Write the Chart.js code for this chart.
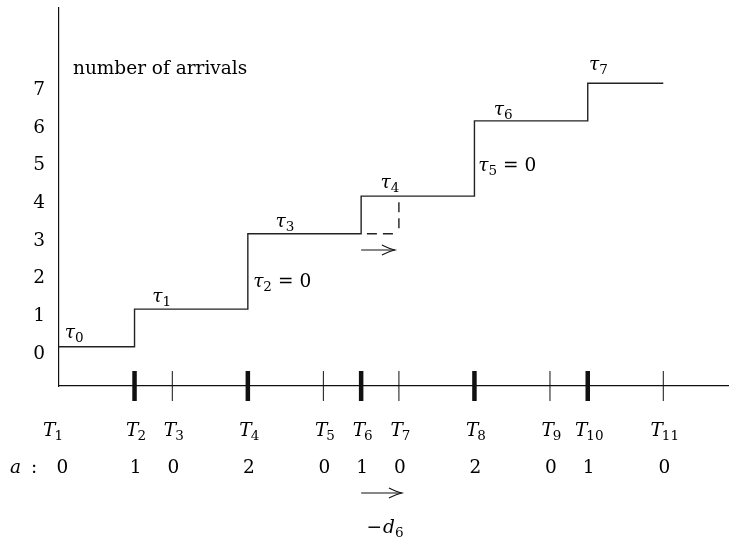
<!DOCTYPE html>
<html><head><meta charset="utf-8">
<script src="https://cdn.jsdelivr.net/npm/chart.js@4"></script>
<style>html,body{margin:0;padding:0;background:#fff;} canvas{display:block;}</style>
</head><body>
<canvas id="c" width="729" height="538"></canvas>
<script>
// ---- data ----
const tNames = ['1','2','3','4','5','6','7','8','9','10','11'];
const tPositions = [0,2,3,5,7,8,9,11,13,14,16];
const arrivals = [0,1,0,2,0,1,0,2,0,1,0];
const stepLevels = [0,1,1,3,3,4,4,6,6,7,7];
const yTickValues = [0,1,2,3,4,5,6,7];
const tauNames = ['0','1','2','3','4','5','6','7'];
const tauIsZero = [false,false,true,false,false,true,false,false];
const yLabelText = 'number of arrivals';
const shiftedIndex = 5;      // arrival at T6 shifted towards T7
const shiftName = '6';

// ---- annotation layout (data coordinates) ----
const tauAnchorX = [0.40,2.72,5.14,5.98,8.76,11.10,11.76,14.28];
const tauAnchorY = [0.23,1.20,1.59,3.19,4.22,4.66,6.16,7.35];
const yLabelAnchor = [0.37, 7.25];
const upperArrowLevel = 2.57;

const FAM = '"DejaVu Serif", serif';
const FS = 18.5, SS = 13.5, SUB_DROP = 4;
const INK = '#111';

function drawMath(ctx, parts, x, y, align) {
  const fonts = {i: `italic ${FS}px ${FAM}`, r: `${FS}px ${FAM}`, s: `${SS}px ${FAM}`};
  let w = 0;
  parts.forEach(p => { ctx.font = fonts[p[1]]; w += ctx.measureText(p[0]).width + (p[2] || 0); });
  let cx = align === 'center' ? x - w / 2 : (align === 'right' ? x - w : x);
  ctx.textAlign = 'left';
  ctx.textBaseline = 'alphabetic';
  parts.forEach(p => {
    ctx.font = fonts[p[1]];
    ctx.fillText(p[0], cx, p[1] === 's' ? y + SUB_DROP : y);
    cx += ctx.measureText(p[0]).width + (p[2] || 0);
  });
}

function arrow(ctx, x1, x2, yy) {
  ctx.beginPath(); ctx.moveTo(x1, yy); ctx.lineTo(x2, yy); ctx.stroke();
  ctx.beginPath();
  ctx.moveTo(x2 - 13, yy - 5);
  ctx.quadraticCurveTo(x2 - 5, yy - 1.2, x2, yy);
  ctx.quadraticCurveTo(x2 - 5, yy + 1.2, x2 - 13, yy + 5);
  ctx.stroke();
}

const annotPlugin = {
  id: 'annot',
  afterDraw(chart) {
    const {ctx, scales: {x, y}} = chart;
    const axisY = x.top;
    ctx.save();
    ctx.fillStyle = '#000';
    ctx.strokeStyle = INK;

    // ticks on the time axis (thick where arrivals happen)
    for (let i = 1; i < tPositions.length; i++) {
      const px = x.getPixelForValue(tPositions[i]);
      ctx.lineWidth = arrivals[i] > 0 ? 4.5 : 1;
      ctx.beginPath(); ctx.moveTo(px, axisY - 15); ctx.lineTo(px, axisY + 15); ctx.stroke();
    }

    // T labels
    for (let i = 0; i < tNames.length; i++) {
      const px = x.getPixelForValue(tPositions[i]) + (i === 0 ? -6 : 1.5);
      drawMath(ctx, [['T', 'i', -1], [tNames[i], 's']], px, axisY + 50, 'center');
    }
    // a row
    drawMath(ctx, [['a', 'i', 10], [':', 'r']], 10, axisY + 87, 'left');
    for (let i = 0; i < arrivals.length; i++) {
      const px = x.getPixelForValue(tPositions[i]) + (i === 0 ? 3.5 : 1);
      drawMath(ctx, [[String(arrivals[i]), 'r']], px, axisY + 87, 'center');
    }

    // shift arrows
    ctx.lineWidth = 1.1;
    const xs = x.getPixelForValue(tPositions[shiftedIndex]);
    const xe = x.getPixelForValue(tPositions[shiftedIndex + 1]);
    arrow(ctx, xs, xe - 4, y.getPixelForValue(upperArrowLevel));
    arrow(ctx, xs, xe + 3, axisY + 107);
    drawMath(ctx, [['\u2212', 'r', 1], ['d', 'i'], [shiftName, 's']], (xs + xe) / 2 + 5, axisY + 147, 'center');

    // tau labels
    for (let i = 0; i < tauNames.length; i++) {
      const px = x.getPixelForValue(tauAnchorX[i]);
      const py = y.getPixelForValue(tauAnchorY[i]);
      if (tauIsZero[i]) {
        drawMath(ctx, [['\u03C4', 'i'], [tauNames[i], 's', 6], ['=', 'r', 6], ['0', 'r']], px, py, 'left');
      } else {
        drawMath(ctx, [['\u03C4', 'i'], [tauNames[i], 's']], px, py, 'center');
      }
    }

    // y label
    drawMath(ctx, [[yLabelText, 'r']], x.getPixelForValue(yLabelAnchor[0]), y.getPixelForValue(yLabelAnchor[1]), 'left');
    ctx.restore();
  }
};

const stepData = tPositions.map((t, i) => ({x: t, y: stepLevels[i]}));
const dashV = [
  {x: tPositions[shiftedIndex + 1], y: stepLevels[shiftedIndex]},
  {x: tPositions[shiftedIndex + 1], y: stepLevels[shiftedIndex - 1]}
];
const dashH = [
  {x: tPositions[shiftedIndex + 1], y: stepLevels[shiftedIndex - 1]},
  {x: tPositions[shiftedIndex], y: stepLevels[shiftedIndex - 1]}
];

new Chart(document.getElementById('c'), {
  type: 'line',
  data: {
    datasets: [
      {data: stepData, stepped: 'before', borderColor: '#222', borderWidth: 1.4, pointRadius: 0, fill: false},
      {data: dashV, borderColor: '#222', borderWidth: 1.4, borderDash: [10, 6], borderDashOffset: 10, pointRadius: 0, fill: false},
      {data: dashH, borderColor: '#222', borderWidth: 1.4, borderDash: [10, 6], borderDashOffset: 10, pointRadius: 0, fill: false}
    ]
  },
  options: {
    responsive: false,
    animation: false,
    layout: {padding: {top: 8, right: 0, bottom: 0, left: 0}},
    plugins: {legend: {display: false}, tooltip: {enabled: false}},
    scales: {
      x: {
        type: 'linear', min: 0, max: 17.74,
        grid: {display: false, drawTicks: false},
        ticks: {display: false},
        border: {display: true, color: INK, width: 1.2},
        afterFit(s) { s.height = 152; s.paddingLeft = 0; s.paddingRight = 0; }
      },
      y: {
        type: 'linear', min: -1.044, max: 9.0,
        grid: {display: false, drawTicks: false},
        border: {display: true, color: INK, width: 1.2},
        ticks: {color: '#000', font: {family: FAM, size: FS}, padding: 14, labelOffset: 7,
                callback: v => String(v)},
        afterBuildTicks(s) { s.ticks = yTickValues.map(v => ({value: v})); },
        afterFit(s) { s.width = 59; s.paddingTop = 0; s.paddingBottom = 0; }
      }
    }
  },
  plugins: [annotPlugin]
});
</script>
</body></html>
